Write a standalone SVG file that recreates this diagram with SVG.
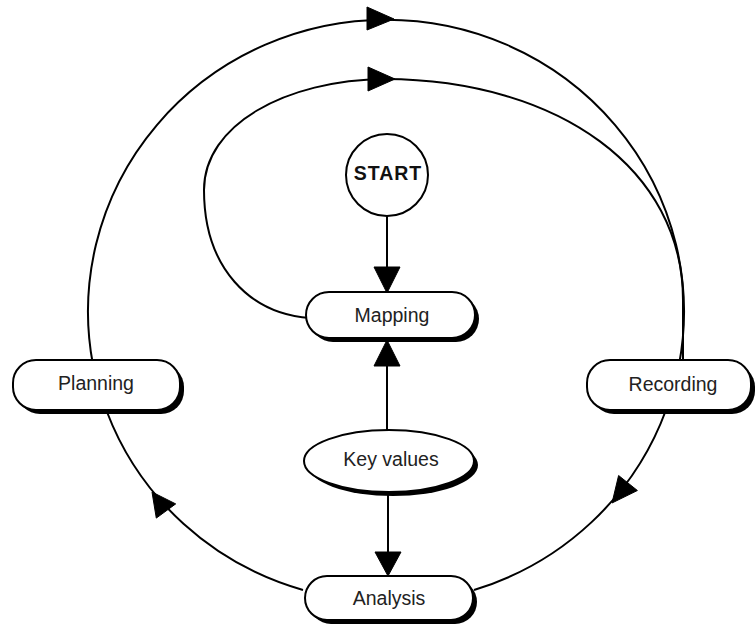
<svg xmlns="http://www.w3.org/2000/svg" width="755" height="630" viewBox="0 0 755 630">
<style>
.edge{fill:none;stroke:#000;stroke-width:2}
.head{fill:#000;stroke:#000;stroke-width:1}
.shadow{fill:#000;stroke:none}
.box{fill:#fff;stroke:#000;stroke-width:2}
.lbl{font-family:"Liberation Sans",Arial,sans-serif;font-size:19.5px;fill:#222;text-anchor:middle}
.bold{font-weight:bold;letter-spacing:1px;fill:#111}
</style>
<rect width="755" height="630" fill="#fff"/>
<g id="connectors">
<path class="edge" d="M 93 365 A 298 292 0 1 1 679 365"/>
<path class="edge" d="M 310 318 C 250 314, 204 268, 204 190 C 204 125, 285 80, 385 79 C 560 80, 683 170, 683 300 L 683 364"/>
<path class="edge" d="M 666 410 A 298 292 0 0 1 474 590"/>
<path class="edge" d="M 303 590 A 298 292 0 0 1 107 412"/>
<line class="edge" x1="387" y1="214" x2="387" y2="270"/>
<line class="edge" x1="387" y1="432" x2="387" y2="362"/>
<line class="edge" x1="388" y1="490" x2="388" y2="555"/>
<polygon class="head" points="367,7 367,30 394,19"/>
<polygon class="head" points="368,67 368,91 395,79"/>
<polygon class="head" points="612,503 637.4,490.5 618.6,475.5"/>
<polygon class="head" points="152,492 175.7,503.9 156.3,518.1"/>
<polygon class="head" points="374,267 400,267 387,293"/>
<polygon class="head" points="374,366 400,366 387,340"/>
<polygon class="head" points="375,552 401,552 388,576"/>
</g>
<g id="start">
<circle class="box" cx="387" cy="175" r="41"/>
<text class="lbl bold" x="388" y="180">START</text>
</g>
<g id="mapping">
<rect class="shadow" x="310" y="296" width="169" height="46" rx="23"/>
<rect class="box" x="306" y="292" width="169" height="46" rx="23"/>
<text class="lbl" x="392" y="322">Mapping</text>
</g>
<g id="planning">
<rect class="shadow" x="17" y="364" width="167" height="50" rx="23"/>
<rect class="box" x="13" y="360" width="167" height="50" rx="23"/>
<text class="lbl" x="96" y="390">Planning</text>
</g>
<g id="recording">
<rect class="shadow" x="591" y="364" width="164" height="50" rx="23"/>
<rect class="box" x="587" y="360" width="164" height="50" rx="23"/>
<text class="lbl" x="673" y="391">Recording</text>
</g>
<g id="keyvalues">
<ellipse class="shadow" cx="393" cy="465" rx="85" ry="31"/>
<ellipse class="box" cx="389" cy="461" rx="85" ry="31"/>
<text class="lbl" x="391" y="466">Key values</text>
</g>
<g id="analysis">
<rect class="shadow" x="309" y="580" width="168" height="44" rx="22"/>
<rect class="box" x="305" y="576" width="168" height="44" rx="22"/>
<text class="lbl" x="389" y="605">Analysis</text>
</g>
</svg>
